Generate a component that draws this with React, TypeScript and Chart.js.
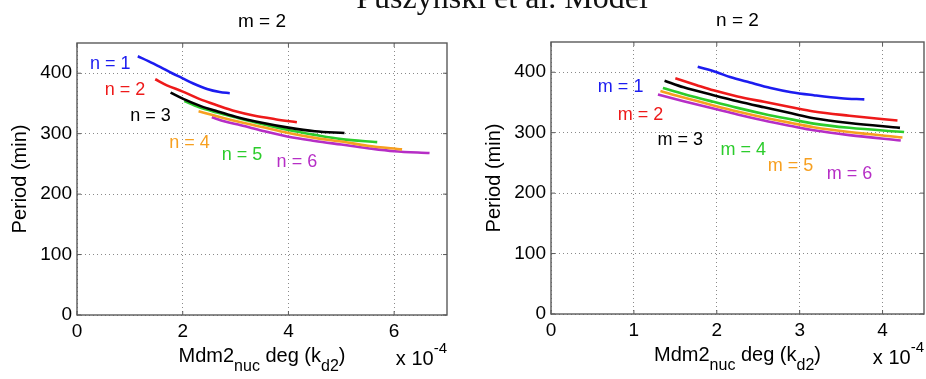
import React, { useEffect, useRef } from 'react';
import { Chart, registerables } from 'chart.js';

Chart.register(...registerables);

const SANS = '"Liberation Sans", Arial, Helvetica, sans-serif';

const SERIES_COLORS = ['#1c1cf0', '#ee1a1a', '#000000', '#f7a020', '#2ccc2c', '#b62ec6'];

// ---------- Left panel: m = 2, varying n ----------
const L_N1_X = [1.15, 1.35, 1.58, 1.8, 1.99, 2.2, 2.46, 2.7, 2.89];
const L_N1_Y = [428, 420, 410, 400, 392, 383, 374, 369, 367];
const L_N2_X = [1.48, 1.7, 1.99, 2.3, 2.65, 3.0, 3.34, 3.75, 4.16];
const L_N2_Y = [390, 380, 370, 358, 347, 337, 330, 324, 319];
const L_N3_X = [1.77, 2.0, 2.33, 2.65, 3.0, 3.5, 4.0, 4.5, 5.06];
const L_N3_Y = [368, 358, 346, 337, 328, 318, 310, 304, 301];
const L_N4_X = [2.3, 2.6, 3.0, 3.5, 4.0, 4.5, 5.0, 5.5, 6.15];
const L_N4_Y = [337, 330, 321, 311, 301, 293, 287, 280, 274];
const L_N5_X = [2.03, 2.3, 2.65, 3.0, 3.5, 4.0, 4.5, 5.0, 5.68];
const L_N5_Y = [354, 344, 335, 327, 316, 306, 298, 291, 286];
const L_N6_X = [2.55, 2.8, 3.1, 3.5, 4.0, 4.5, 5.0, 5.5, 6.0, 6.67];
const L_N6_Y = [327, 320, 314, 305, 295, 288, 282, 276, 271, 268];

const L_LABELS = ['n = 1', 'n = 2', 'n = 3', 'n = 4', 'n = 5', 'n = 6'];
const L_LABEL_X = [0.63, 0.91, 1.39, 2.13, 3.12, 4.16];
const L_LABEL_Y = [416, 372, 330, 285, 264, 253];

// ---------- Right panel: n = 2, varying m ----------
const R_M1_X = [1.77, 2.0, 2.16, 2.4, 2.65, 2.9, 3.17, 3.5, 3.78];
const R_M1_Y = [409, 400, 392, 383, 374, 367, 362, 357, 355];
const R_M2_X = [1.5, 1.75, 1.96, 2.25, 2.57, 2.9, 3.17, 3.6, 4.18];
const R_M2_Y = [390, 379, 370, 360, 351, 342, 335, 328, 320];
const R_M3_X = [1.37, 1.6, 1.96, 2.25, 2.57, 2.9, 3.17, 3.6, 4.21];
const R_M3_Y = [386, 375, 362, 352, 342, 332, 324, 316, 308];
const R_M4_X = [1.35, 1.6, 1.96, 2.25, 2.57, 2.9, 3.17, 3.6, 4.26];
const R_M4_Y = [374, 364, 351, 341, 331, 322, 315, 308, 301];
const R_M5_X = [1.32, 1.6, 1.96, 2.25, 2.57, 2.9, 3.17, 3.6, 4.24];
const R_M5_Y = [369, 358, 345, 335, 325, 316, 309, 301, 292];
const R_M6_X = [1.29, 1.6, 1.96, 2.25, 2.57, 2.9, 3.17, 3.6, 4.22];
const R_M6_Y = [363, 352, 340, 330, 320, 311, 304, 296, 287];

const R_LABELS = ['m = 1', 'm = 2', 'm = 3', 'm = 4', 'm = 5', 'm = 6'];
const R_LABEL_X = [0.84, 1.08, 1.56, 2.32, 2.89, 3.6];
const R_LABEL_Y = [375, 330, 287, 271, 245, 232];

const MAIN_TITLE = 'Puszynski et al. Model';
const Y_TITLE = 'Period (min)';

type PanelCfg = {
  subtitle: string;
  xMax: number;
  xStep: number;
  series: { x: number[]; y: number[]; color: string }[];
  labels: string[];
  labelX: number[];
  labelY: number[];
  labelColors: string[];
  padTop: number;
  padRight: number;
  yWidth: number;
  xHeight: number;
};

const zip = (xs: number[], ys: number[]) => xs.map((x, i) => ({ x, y: ys[i] }));

function decorPlugin(cfg: PanelCfg) {
  return {
    id: 'decor',
    afterDatasetsDraw(chart: any) {
      const { ctx, chartArea: a, scales } = chart;
      const xs = scales.x;
      const ys = scales.y;
      ctx.save();
      // box
      ctx.strokeStyle = '#5a5a5a';
      ctx.lineWidth = 1.4;
      ctx.setLineDash([]);
      ctx.strokeRect(a.left, a.top, a.right - a.left, a.bottom - a.top);
      // inner tick marks
      ctx.lineWidth = 1;
      ctx.beginPath();
      xs.ticks.forEach((t: any) => {
        const p = xs.getPixelForValue(t.value);
        ctx.moveTo(p, a.bottom);
        ctx.lineTo(p, a.bottom - 4);
        ctx.moveTo(p, a.top);
        ctx.lineTo(p, a.top + 4);
      });
      ys.ticks.forEach((t: any) => {
        const p = ys.getPixelForValue(t.value);
        ctx.moveTo(a.left, p);
        ctx.lineTo(a.left + 4, p);
        ctx.moveTo(a.right, p);
        ctx.lineTo(a.right - 4, p);
      });
      ctx.stroke();

      // series labels
      ctx.font = `18px ${SANS}`;
      ctx.textAlign = 'center';
      ctx.textBaseline = 'middle';
      cfg.labels.forEach((txt, i) => {
        ctx.fillStyle = cfg.labelColors[i];
        ctx.fillText(txt, xs.getPixelForValue(cfg.labelX[i]), ys.getPixelForValue(cfg.labelY[i]));
      });

      const cx = (a.left + a.right) / 2;
      // subtitle
      ctx.fillStyle = '#000';
      ctx.textBaseline = 'alphabetic';
      ctx.font = `19px ${SANS}`;
      ctx.fillText(cfg.subtitle, cx, a.top - 16);

      // y title
      ctx.save();
      ctx.translate(a.left - 57, (a.top + a.bottom) / 2);
      ctx.rotate(-Math.PI / 2);
      ctx.font = `20px ${SANS}`;
      ctx.textAlign = 'center';
      ctx.textBaseline = 'middle';
      ctx.fillText(Y_TITLE, 0, 0);
      ctx.restore();

      // x title with subscripts
      const parts = [
        { t: 'Mdm2', s: 20, dy: 0 },
        { t: 'nuc', s: 16, dy: 9 },
        { t: ' deg (k', s: 20, dy: 0 },
        { t: 'd2', s: 16, dy: 9 },
        { t: ')', s: 20, dy: 0 },
      ];
      ctx.textAlign = 'left';
      let total = 0;
      parts.forEach((p) => {
        ctx.font = `${p.s}px ${SANS}`;
        total += ctx.measureText(p.t).width;
      });
      let x = cx - total / 2;
      const base = a.bottom + 47;
      parts.forEach((p) => {
        ctx.font = `${p.s}px ${SANS}`;
        ctx.fillText(p.t, x, base + p.dy);
        x += ctx.measureText(p.t).width;
      });

      // exponent
      ctx.font = `15px ${SANS}`;
      const ew = ctx.measureText('-4').width;
      ctx.fillText('-4', a.right - ew, base - 9);
      ctx.font = `20px ${SANS}`;
      const mw = ctx.measureText('x 10').width;
      ctx.fillText('x 10', a.right - ew - mw, base + 3);

      ctx.restore();
    },
  };
}

function Panel({ left, cfg }: { left: number; cfg: PanelCfg }) {
  const ref = useRef<HTMLCanvasElement>(null);
  useEffect(() => {
    const tickFont = { family: SANS, size: 19 };
    const chart = new Chart(ref.current as HTMLCanvasElement, {
      type: 'line',
      data: {
        datasets: cfg.series.map((s) => ({
          data: zip(s.x, s.y),
          borderColor: s.color,
          backgroundColor: s.color,
          borderWidth: 2.6,
          pointRadius: 0,
          fill: false,
          cubicInterpolationMode: 'monotone' as const,
        })),
      },
      options: {
        responsive: false,
        animation: false,
        events: [],
        layout: { padding: { left: 0, top: cfg.padTop, right: cfg.padRight, bottom: 0 } },
        plugins: { legend: { display: false }, tooltip: { enabled: false }, title: { display: false } },
        scales: {
          x: {
            type: 'linear',
            min: 0,
            max: cfg.xMax,
            afterFit: (s: any) => {
              s.height = cfg.xHeight;
            },
            ticks: {
              stepSize: cfg.xStep,
              includeBounds: false,
              autoSkip: false,
              maxRotation: 0,
              font: tickFont,
              color: '#000',
              padding: 5,
            },
            grid: { color: '#8a8a8a', lineWidth: 1, drawTicks: false },
            border: { display: false, dash: [1, 3] },
          },
          y: {
            type: 'linear',
            min: 0,
            max: 450,
            afterFit: (s: any) => {
              s.width = cfg.yWidth;
            },
            ticks: {
              stepSize: 100,
              includeBounds: false,
              autoSkip: false,
              font: tickFont,
              color: '#000',
              padding: 5,
            },
            grid: { color: '#8a8a8a', lineWidth: 1, drawTicks: false },
            border: { display: false, dash: [1, 3] },
          },
        },
      },
      plugins: [decorPlugin(cfg)],
    } as any);
    return () => chart.destroy();
  }, []);
  return (
    <div style={{ position: 'absolute', left, top: 0, width: 463, height: 379 }}>
      <canvas ref={ref} width={463} height={379} style={{ display: 'block' }} />
    </div>
  );
}

const leftCfg: PanelCfg = {
  subtitle: 'm = 2',
  xMax: 7,
  xStep: 2,
  series: [
    { x: L_N1_X, y: L_N1_Y, color: SERIES_COLORS[0] },
    { x: L_N2_X, y: L_N2_Y, color: SERIES_COLORS[1] },
    { x: L_N3_X, y: L_N3_Y, color: SERIES_COLORS[2] },
    { x: L_N4_X, y: L_N4_Y, color: SERIES_COLORS[3] },
    { x: L_N5_X, y: L_N5_Y, color: SERIES_COLORS[4] },
    { x: L_N6_X, y: L_N6_Y, color: SERIES_COLORS[5] },
  ],
  labels: L_LABELS,
  labelX: L_LABEL_X,
  labelY: L_LABEL_Y,
  labelColors: SERIES_COLORS,
  padTop: 43,
  padRight: 16,
  yWidth: 77,
  xHeight: 64,
};

const rightCfg: PanelCfg = {
  subtitle: 'n = 2',
  xMax: 4.5,
  xStep: 1,
  series: [
    { x: R_M1_X, y: R_M1_Y, color: SERIES_COLORS[0] },
    { x: R_M2_X, y: R_M2_Y, color: SERIES_COLORS[1] },
    { x: R_M3_X, y: R_M3_Y, color: SERIES_COLORS[2] },
    { x: R_M4_X, y: R_M4_Y, color: SERIES_COLORS[4] },
    { x: R_M5_X, y: R_M5_Y, color: SERIES_COLORS[3] },
    { x: R_M6_X, y: R_M6_Y, color: SERIES_COLORS[5] },
  ],
  labels: R_LABELS,
  labelX: R_LABEL_X,
  labelY: R_LABEL_Y,
  labelColors: [SERIES_COLORS[0], SERIES_COLORS[1], SERIES_COLORS[2], SERIES_COLORS[4], SERIES_COLORS[3], SERIES_COLORS[5]],
  padTop: 42,
  padRight: 2,
  yWidth: 88,
  xHeight: 65,
};

export default function App() {
  return (
    <div
      style={{
        position: 'fixed',
        left: 0,
        top: 0,
        width: 926,
        height: 379,
        overflow: 'hidden',
        background: '#fff',
      }}
    >
      <Panel left={0} cfg={leftCfg} />
      <Panel left={463} cfg={rightCfg} />
      <div
        style={{
          position: 'absolute',
          left: 39,
          top: -19,
          width: 926,
          textAlign: 'center',
          fontFamily: '"Liberation Serif", "Times New Roman", serif',
          fontSize: 32,
          lineHeight: '32px',
          color: '#111',
          whiteSpace: 'nowrap',
          pointerEvents: 'none',
        }}
      >
        {MAIN_TITLE}
      </div>
    </div>
  );
}
